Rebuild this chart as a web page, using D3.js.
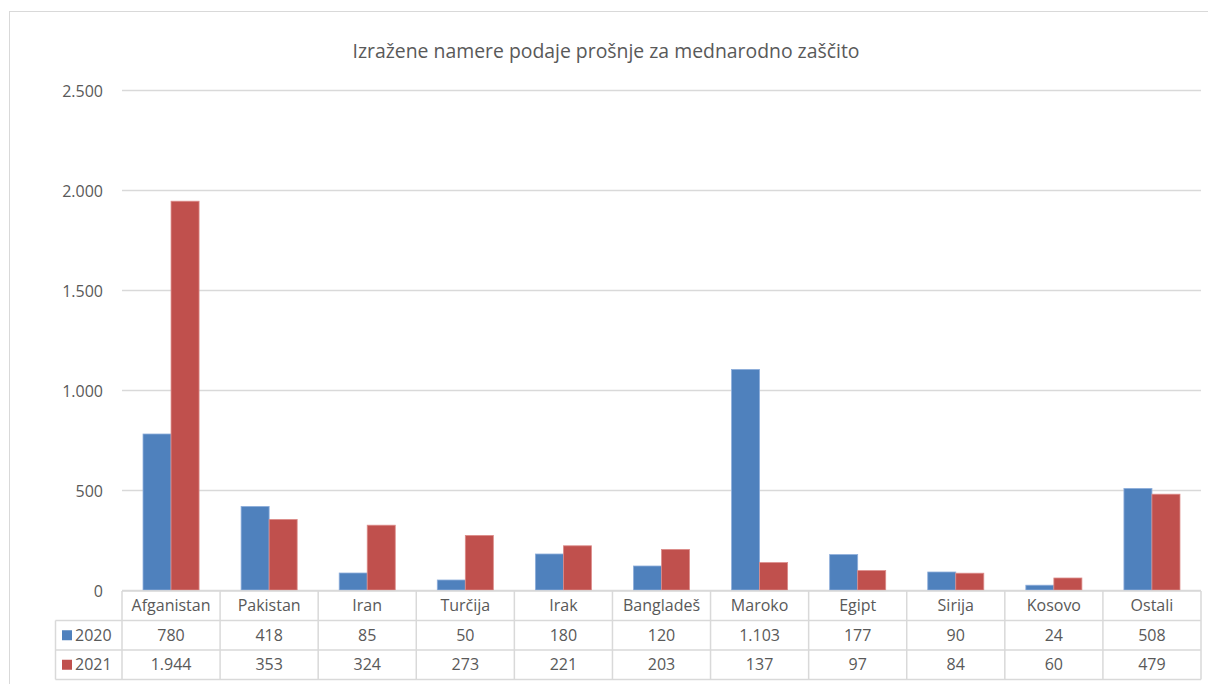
<!DOCTYPE html>
<html>
<head>
<meta charset="utf-8">
<script src="https://cdn.jsdelivr.net/npm/d3@7"></script>
<style>
  body { margin: 0; background: #fff; }
  text { font-family: "Open Sans", "Noto Sans", sans-serif; fill: #595959; }
</style>
</head>
<body>
<div id="chart"></div>
<script>
const title = "Izražene namere podaje prošnje za mednarodno zaščito";
const countries = ["Afganistan", "Pakistan", "Iran", "Turčija", "Irak", "Bangladeš", "Maroko", "Egipt", "Sirija", "Kosovo", "Ostali"];
const years = ["2020", "2021"];
const values2020 = [780, 418, 85, 50, 180, 120, 1103, 177, 90, 24, 508];
const values2021 = [1944, 353, 324, 273, 221, 203, 137, 97, 84, 60, 479];
const yTicks = [0, 500, 1000, 1500, 2000, 2500];
const colors = ["#4f81bd", "#c0504d"];

function drawChart() {
    const width = 1208, height = 684;
    const margin = { top: 90, left: 122, right: 7, bottom: 94 };
    const rowH = 29.5;
    const gridColor = "#d9d9d9";
    const fontSize = "16px";

    const series = [values2020, values2021];
    const fmt = d3.formatLocale({ decimal: ",", thousands: ".", grouping: [3] }).format(",");

    const svg = d3.select("#chart").append("svg")
        .attr("width", width)
        .attr("height", height);

    // chart border
    svg.append("rect")
        .attr("x", 9.5).attr("y", 11.5)
        .attr("width", width + 10).attr("height", height + 10)
        .attr("fill", "none").attr("stroke", gridColor);

    const x = d3.scaleBand()
        .domain(countries)
        .range([margin.left, width - margin.right]);

    const x1 = d3.scaleBand()
        .domain(years)
        .range([0, x.bandwidth()])
        .paddingInner(0)
        .paddingOuter(0.75);

    const y = d3.scaleLinear()
        .domain([0, 2500])
        .range([height - margin.bottom, margin.top]);

    // gridlines
    svg.append("g")
        .selectAll("line")
        .data(yTicks)
        .enter()
        .append("line")
        .attr("x1", margin.left).attr("x2", width - margin.right)
        .attr("y1", d => Math.round(y(d)) + 0.5).attr("y2", d => Math.round(y(d)) + 0.5)
        .attr("stroke", gridColor)
        .attr("stroke-width", 1.5);

    // y axis labels
    const yAxis = d3.axisLeft(y).tickValues(yTicks).tickFormat(fmt).tickSize(0).tickPadding(19);
    const ya = svg.append("g")
        .attr("transform", "translate(" + margin.left + ",0)")
        .call(yAxis);
    ya.select(".domain").remove();
    ya.selectAll("text").style("font-size", fontSize).attr("fill", "#595959").attr("dy", "0.4em")
        .style("font-family", "'Open Sans', 'Noto Sans', sans-serif");

    // bars
    const groups = svg.append("g")
        .selectAll("g")
        .data(countries)
        .enter()
        .append("g")
        .attr("transform", d => "translate(" + x(d) + ",0)");

    groups.selectAll("rect")
        .data((d, i) => years.map((yr, j) => ({ yr: yr, v: series[j][i], j: j })))
        .enter()
        .append("rect")
        .attr("x", d => x1(d.yr))
        .attr("width", x1.bandwidth())
        .attr("y", d => y(d.v))
        .attr("height", d => y(0) - y(d.v))
        .attr("fill", d => colors[d.j])
        .attr("stroke", d => d.j === 0 ? "#8eaedb" : "#dc8c8a")
        .attr("stroke-width", 0.8);

    // data table
    const top = y(0) + 1;
    const table = svg.append("g");
    const left = 55.5;
    const right = width - margin.right;

    table.append("line")
        .attr("x1", margin.left).attr("x2", right)
        .attr("y1", top).attr("y2", top)
        .attr("stroke", gridColor).attr("stroke-width", 1.5);
    [1, 2, 3].forEach(r => {
        table.append("line")
            .attr("x1", left).attr("x2", right)
            .attr("y1", top + r * rowH).attr("y2", top + r * rowH)
            .attr("stroke", gridColor).attr("stroke-width", 1.5);
    });

    const vx = countries.map(c => x(c)).concat([right]);
    table.selectAll("line.v")
        .data(vx)
        .enter()
        .append("line")
        .attr("class", "v")
        .attr("x1", d => d).attr("x2", d => d)
        .attr("y1", top).attr("y2", top + 3 * rowH)
        .attr("stroke", gridColor).attr("stroke-width", 1.5);
    table.append("line")
        .attr("x1", left).attr("x2", left)
        .attr("y1", top + rowH).attr("y2", top + 3 * rowH)
        .attr("stroke", gridColor).attr("stroke-width", 1.5);

    // category names
    table.selectAll("text.cat")
        .data(countries)
        .enter()
        .append("text")
        .attr("x", d => x(d) + x.bandwidth() / 2)
        .attr("y", top + rowH / 2 + 5.5)
        .attr("text-anchor", "middle")
        .style("font-size", fontSize)
        .text(d => d);

    // value rows
    series.forEach((vals, j) => {
        const ry = top + (j + 1) * rowH;
        table.append("rect")
            .attr("x", 62).attr("y", ry + rowH / 2 - 5)
            .attr("width", 10).attr("height", 10)
            .attr("fill", colors[j]);
        table.append("text")
            .attr("x", 75).attr("y", ry + rowH / 2 + 5.5)
            .style("font-size", fontSize)
            .text(years[j]);
        table.selectAll("text.v" + j)
            .data(vals)
            .enter()
            .append("text")
            .attr("x", (d, i) => x(countries[i]) + x.bandwidth() / 2)
            .attr("y", ry + rowH / 2 + 5.5)
            .attr("text-anchor", "middle")
            .style("font-size", fontSize)
            .text(d => fmt(d));
    });

    svg.append("text")
        .attr("x", 606)
        .attr("y", 58)
        .attr("text-anchor", "middle")
        .style("font-size", "19.4px")
        .text(title);
}

drawChart();
</script>
</body>
</html>
